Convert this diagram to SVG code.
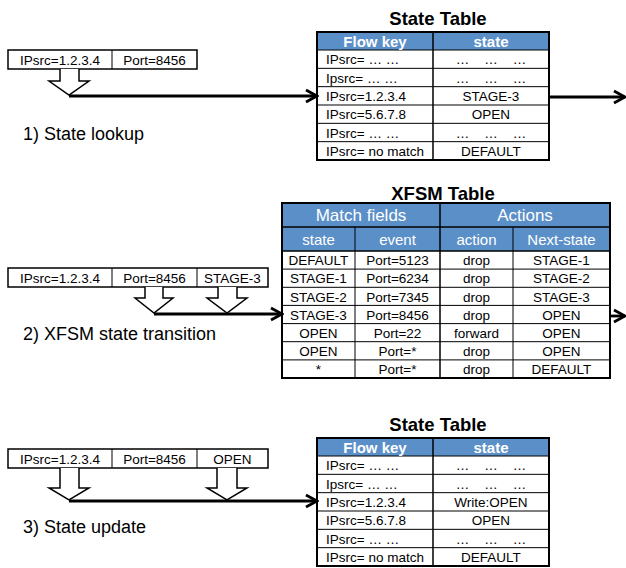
<svg xmlns="http://www.w3.org/2000/svg" width="626" height="568" viewBox="0 0 626 568">
<style>
.bg{fill:#fff}
.cell{font-family:"Liberation Sans",Arial,sans-serif;font-size:13.5px;fill:#000}
.mid{text-anchor:middle}
.hdr{font-family:"Liberation Sans",Arial,sans-serif;font-weight:bold;font-size:15px;fill:#fff;text-anchor:middle}
.xh1{font-family:"Liberation Sans",Arial,sans-serif;font-size:17px;fill:#fff;text-anchor:middle}
.xh2{font-family:"Liberation Sans",Arial,sans-serif;font-size:15px;fill:#fff;text-anchor:middle}
.title{font-family:"Liberation Sans",Arial,sans-serif;font-weight:bold;font-size:18.5px;fill:#000;text-anchor:middle}
.step{font-family:"Liberation Sans",Arial,sans-serif;font-size:18px;fill:#000}
.hfill{fill:#5B8FC8}
.outer{fill:none;stroke:#000;stroke-width:2}
.grid{fill:none;stroke:#000;stroke-width:1}
.box{fill:#fff;stroke:#000;stroke-width:1.5}
.harrow{fill:#fff;stroke:#000;stroke-width:1.5;stroke-linejoin:miter}
.conn{fill:none;stroke:#000;stroke-width:2.8}
</style>
<defs>
<marker id="chev" markerUnits="userSpaceOnUse" markerWidth="16" markerHeight="16" viewBox="0 0 16 16" refX="14" refY="8" orient="auto">
<path d="M3,2 L14,8 L3,14" fill="none" stroke="#000" stroke-width="2.8"/>
</marker>
</defs>
<rect class="bg" x="0" y="0" width="626" height="568"/>

<!-- Section 1 -->
<g id="packet1">
<rect class="box" x="8" y="50" width="189" height="19"/>
<line class="grid" x1="112" y1="50" x2="112" y2="69" stroke-width="1.5"/>
<text class="cell mid" x="60" y="64.5">IPsrc=1.2.3.4</text>
<text class="cell mid" x="154.5" y="64.5">Port=8456</text>
</g>
<g id="label1"><text class="step" x="23" y="140">1) State lookup</text></g>

<g id="stateTable1">
<text class="title" x="438" y="25">State Table</text>
<rect class="hfill" x="317" y="32" width="232" height="18"/>
<g class="grid">
<line x1="317" y1="50" x2="549" y2="50"/>
<line x1="317" y1="68.33" x2="549" y2="68.33"/>
<line x1="317" y1="86.67" x2="549" y2="86.67"/>
<line x1="317" y1="105" x2="549" y2="105"/>
<line x1="317" y1="123.33" x2="549" y2="123.33"/>
<line x1="317" y1="141.67" x2="549" y2="141.67"/>
<line x1="433" y1="32" x2="433" y2="160" stroke-width="1.5"/>
</g>
<rect class="outer" x="317" y="32" width="232" height="128"/>
<text class="hdr" x="375" y="46.5">Flow key</text>
<text class="hdr" x="491" y="46.5">state</text>
<text class="cell" x="326" y="64.2">IPsrc= … …</text>
<text class="cell" x="326" y="82.5">Ipsrc= … …</text>
<text class="cell" x="326" y="100.9">IPsrc=1.2.3.4</text>
<text class="cell" x="326" y="119.2">IPsrc=5.6.7.8</text>
<text class="cell" x="326" y="137.5">IPsrc= … …</text>
<text class="cell" x="326" y="155.9">IPsrc= no match</text>
<text class="cell mid" x="491" y="64.2" xml:space="preserve">…    …    …</text>
<text class="cell mid" x="491" y="82.5" xml:space="preserve">…    …    …</text>
<text class="cell mid" x="491" y="100.9">STAGE-3</text>
<text class="cell mid" x="491" y="119.2">OPEN</text>
<text class="cell mid" x="491" y="137.5" xml:space="preserve">…    …    …</text>
<text class="cell mid" x="491" y="155.9">DEFAULT</text>
</g>

<!-- Section 2 -->
<g id="packet2">
<rect class="box" x="8" y="268" width="260" height="19"/>
<line class="grid" x1="112" y1="268" x2="112" y2="287" stroke-width="1.5"/>
<line class="grid" x1="197" y1="268" x2="197" y2="287" stroke-width="1.5"/>
<text class="cell mid" x="60" y="282.5">IPsrc=1.2.3.4</text>
<text class="cell mid" x="154.5" y="282.5">Port=8456</text>
<text class="cell mid" x="232.5" y="282.5">STAGE-3</text>
</g>
<g id="label2"><text class="step" x="23" y="340">2) XFSM state transition</text></g>

<g id="xfsmTable">
<text class="title" x="443" y="200">XFSM Table</text>
<rect class="hfill" x="282" y="203" width="328" height="48"/>
<g class="grid">
<line x1="282" y1="227" x2="610" y2="227" stroke-width="1.5"/>
<line x1="282" y1="251" x2="610" y2="251" stroke-width="1.5"/>
<line x1="282" y1="269.1" x2="610" y2="269.1"/>
<line x1="282" y1="287.3" x2="610" y2="287.3"/>
<line x1="282" y1="305.4" x2="610" y2="305.4"/>
<line x1="282" y1="323.6" x2="610" y2="323.6"/>
<line x1="282" y1="341.7" x2="610" y2="341.7"/>
<line x1="282" y1="359.9" x2="610" y2="359.9"/>
<line x1="355" y1="227" x2="355" y2="378"/>
<line x1="440" y1="203" x2="440" y2="378" stroke-width="1.5"/>
<line x1="513" y1="227" x2="513" y2="378"/>
</g>
<rect class="outer" x="282" y="203" width="328" height="175"/>
<text class="xh1" x="361" y="221">Match fields</text>
<text class="xh1" x="525" y="221">Actions</text>
<text class="xh2" x="318.5" y="245">state</text>
<text class="xh2" x="397.5" y="245">event</text>
<text class="xh2" x="476.5" y="245">action</text>
<text class="xh2" x="561.5" y="245">Next-state</text>
<g class="cell mid">
<text x="318.5" y="265.2">DEFAULT</text><text x="397.5" y="265.2">Port=5123</text><text x="476.5" y="265.2">drop</text><text x="561.5" y="265.2">STAGE-1</text>
<text x="318.5" y="283.3">STAGE-1</text><text x="397.5" y="283.3">Port=6234</text><text x="476.5" y="283.3">drop</text><text x="561.5" y="283.3">STAGE-2</text>
<text x="318.5" y="301.5">STAGE-2</text><text x="397.5" y="301.5">Port=7345</text><text x="476.5" y="301.5">drop</text><text x="561.5" y="301.5">STAGE-3</text>
<text x="318.5" y="319.6">STAGE-3</text><text x="397.5" y="319.6">Port=8456</text><text x="476.5" y="319.6">drop</text><text x="561.5" y="319.6">OPEN</text>
<text x="318.5" y="337.8">OPEN</text><text x="397.5" y="337.8">Port=22</text><text x="476.5" y="337.8">forward</text><text x="561.5" y="337.8">OPEN</text>
<text x="318.5" y="355.9">OPEN</text><text x="397.5" y="355.9">Port=*</text><text x="476.5" y="355.9">drop</text><text x="561.5" y="355.9">OPEN</text>
<text x="318.5" y="374.1">*</text><text x="397.5" y="374.1">Port=*</text><text x="476.5" y="374.1">drop</text><text x="561.5" y="374.1">DEFAULT</text>
</g>
</g>

<!-- Section 3 -->
<g id="packet3">
<rect class="box" x="8" y="449" width="260" height="19"/>
<line class="grid" x1="112" y1="449" x2="112" y2="468" stroke-width="1.5"/>
<line class="grid" x1="197" y1="449" x2="197" y2="468" stroke-width="1.5"/>
<text class="cell mid" x="60" y="463.5">IPsrc=1.2.3.4</text>
<text class="cell mid" x="154.5" y="463.5">Port=8456</text>
<text class="cell mid" x="232.5" y="463.5">OPEN</text>
</g>
<g id="label3"><text class="step" x="23" y="533">3) State update</text></g>

<g id="stateTable2">
<text class="title" x="438" y="431">State Table</text>
<rect class="hfill" x="317" y="438" width="232" height="18"/>
<g class="grid">
<line x1="317" y1="456" x2="549" y2="456"/>
<line x1="317" y1="474.33" x2="549" y2="474.33"/>
<line x1="317" y1="492.67" x2="549" y2="492.67"/>
<line x1="317" y1="511" x2="549" y2="511"/>
<line x1="317" y1="529.33" x2="549" y2="529.33"/>
<line x1="317" y1="547.67" x2="549" y2="547.67"/>
<line x1="433" y1="438" x2="433" y2="566" stroke-width="1.5"/>
</g>
<rect class="outer" x="317" y="438" width="232" height="128"/>
<text class="hdr" x="375" y="452.5">Flow key</text>
<text class="hdr" x="491" y="452.5">state</text>
<text class="cell" x="326" y="470.2">IPsrc= … …</text>
<text class="cell" x="326" y="488.5">Ipsrc= … …</text>
<text class="cell" x="326" y="506.9">IPsrc=1.2.3.4</text>
<text class="cell" x="326" y="525.2">IPsrc=5.6.7.8</text>
<text class="cell" x="326" y="543.5">IPsrc= … …</text>
<text class="cell" x="326" y="561.9">IPsrc= no match</text>
<text class="cell mid" x="491" y="470.2" xml:space="preserve">…    …    …</text>
<text class="cell mid" x="491" y="488.5" xml:space="preserve">…    …    …</text>
<text class="cell mid" x="491" y="506.9">Write:OPEN</text>
<text class="cell mid" x="491" y="525.2">OPEN</text>
<text class="cell mid" x="491" y="543.5" xml:space="preserve">…    …    …</text>
<text class="cell mid" x="491" y="561.9">DEFAULT</text>
</g>

<g id="connectors">
<path class="harrow" d="M60,69 V81 H49 L69,95 L89,81 H79 V69"/>
<line class="conn" x1="69" y1="96" x2="317" y2="96" marker-end="url(#chev)"/>
<line class="conn" x1="549" y1="97" x2="625" y2="97" marker-end="url(#chev)"/>

<path class="harrow" d="M145,287 V298 H135 L154,313 L173,298 H163 V287"/>
<path class="harrow" d="M218,287 V298 H207 L227,313 L247,298 H237 V287"/>
<line class="conn" x1="154" y1="314" x2="282" y2="314" marker-end="url(#chev)"/>
<line class="conn" x1="610" y1="316" x2="625" y2="316" marker-end="url(#chev)"/>

<path class="harrow" d="M60,468 V488 H49 L69,500 L89,488 H79 V468"/>
<path class="harrow" d="M217,468 V488 H207 L227,500 L247,488 H237 V468"/>
<line class="conn" x1="69" y1="501" x2="317" y2="501" marker-end="url(#chev)"/>
</g>
</svg>
